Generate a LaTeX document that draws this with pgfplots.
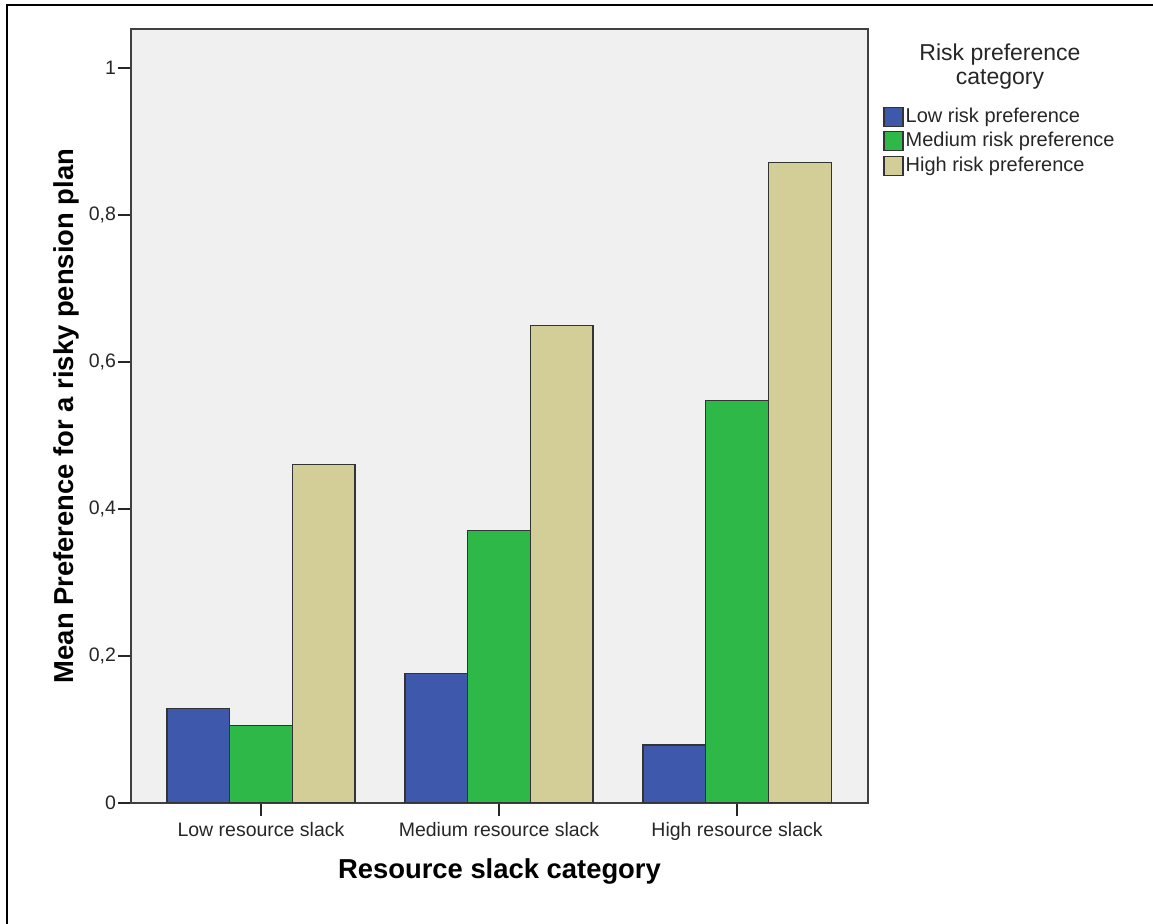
\documentclass[border=0pt]{standalone}
\usepackage{fontspec}
\setmainfont{Liberation Sans}
\usepackage{pgfplots}
\pgfplotsset{compat=1.18}
\usepackage{pgfplotstable}

\definecolor{lowrisk}{RGB}{62,88,172}
\definecolor{medrisk}{RGB}{46,184,72}
\definecolor{highrisk}{RGB}{211,206,151}
\definecolor{panelbg}{RGB}{240,240,240}

% mean preference per slack category (0 = low, 1 = medium, 2 = high)
\pgfplotstableread{
x  low    med    high
0  0.129  0.105  0.461
1  0.176  0.371  0.650
2  0.079  0.548  0.871
}\prefdata

\begin{document}
\begin{tikzpicture}
\useasboundingbox (0pt,0pt) rectangle (576.5pt,-462pt);
% cropped outer frame (only left and top edges visible)
\draw[line width=1pt] (3.5pt,-470pt) -- (3.5pt,-2.65pt) -- (580pt,-2.65pt);

\begin{axis}[
    at={(65.5pt,-401.5pt)}, anchor=south west,
    scale only axis,
    width=368.5pt, height=387pt,
    ybar=0pt, bar width=31.35pt,
    xmin=-0.546, xmax=2.55,
    ymin=0, ymax=1.053,
    axis background/.style={fill=panelbg},
    axis line style={black!75, line width=0.9pt},
    xtick={0,1,2},
    xticklabels={Low resource slack, Medium resource slack, High resource slack},
    ytick={0,0.2,0.4,0.6,0.8,1},
    yticklabels={0,{0,2},{0,4},{0,6},{0,8},1},
    tick align=outside,
    major tick length=6.5pt,
    tick style={black!85, line width=0.8pt},
    xtick pos=bottom, ytick pos=left,
    ticklabel style={font=\fontsize{9.75}{11}\selectfont, text=black!85},
    yticklabel style={xshift=2.5pt},
    xticklabel style={yshift=0.5pt},
    xlabel={Resource slack category},
    ylabel={Mean Preference for a risky pension plan},
    label style={font=\fontsize{13.7}{15}\selectfont\bfseries},
    xlabel style={at={(axis description cs:0.5,-0.0891)}, anchor=center},
    ylabel style={at={(axis description cs:-0.0870,0.5)}, anchor=center, rotate=0},
    legend style={
        at={(axis description cs:1.0204,0.903)}, anchor=north west,
        draw=none, fill=none, inner sep=0pt,
        font=\fontsize{10}{12}\selectfont, text=black!85,
        nodes={inner sep=1pt, text height=8pt, text depth=2.25pt},
        row sep=0pt,
    },
    legend cell align=left,
    legend image code/.code={\draw[#1, draw=black!80, line width=0.6pt] (0pt,-4.75pt) rectangle (9.5pt,4.75pt);},
    every axis plot/.append style={draw=black!80, line width=0.6pt},
]
\addplot[fill=lowrisk]  table[x=x, y=low]  {\prefdata};
\addlegendentry{Low risk preference}
\addplot[fill=medrisk]  table[x=x, y=med]  {\prefdata};
\addlegendentry{Medium risk preference}
\addplot[fill=highrisk] table[x=x, y=high] {\prefdata};
\addlegendentry{High risk preference}
\end{axis}

\node[align=center, font=\fontsize{11.5}{12}\selectfont, text=black!85] at (500pt,-33.5pt)
    {Risk preference\\category};
\end{tikzpicture}
\end{document}
